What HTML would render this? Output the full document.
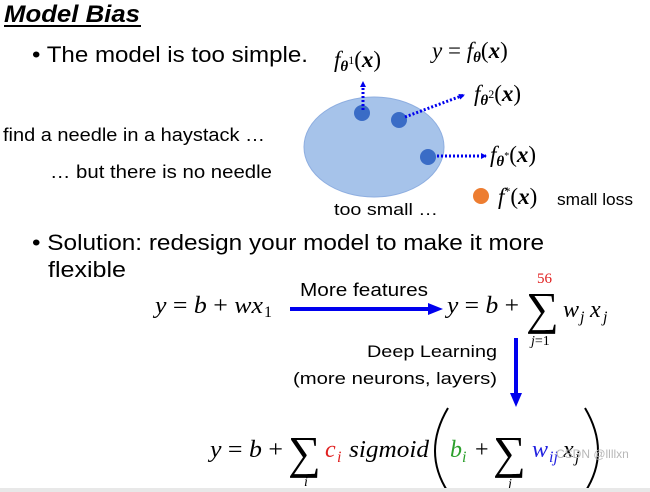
<!DOCTYPE html>
<html><head><style>
html,body{margin:0;padding:0;background:#fff;}
svg{display:block;}
.s{font-family:"Liberation Sans",sans-serif;fill:#000;}
.m{font-family:"Liberation Serif",serif;font-style:italic;fill:#000;}
.r{font-family:"Liberation Serif",serif;fill:#000;}
</style></head><body>
<svg width="650" height="492" viewBox="0 0 650 492" xmlns="http://www.w3.org/2000/svg">
<defs>
<marker id="ab" markerWidth="6" markerHeight="6" refX="5" refY="3" orient="auto" markerUnits="userSpaceOnUse"><path d="M0,0 L6,3 L0,6 z" fill="#0000ee"/></marker>
</defs>
<text x="4" y="22" class="s" font-size="24" font-weight="bold" font-style="italic" textLength="136" lengthAdjust="spacingAndGlyphs">Model Bias</text>
<line x1="4" y1="26" x2="141" y2="26" stroke="#000" stroke-width="2"/>
<text x="32" y="62" class="s" font-size="22" textLength="276" lengthAdjust="spacingAndGlyphs">• The model is too simple.</text>
<text x="3" y="141" class="s" font-size="18" textLength="262" lengthAdjust="spacingAndGlyphs">find a needle in a haystack …</text>
<text x="50" y="178" class="s" font-size="18" textLength="222" lengthAdjust="spacingAndGlyphs">… but there is no needle</text>

<ellipse cx="374" cy="147" rx="70" ry="50" fill="#a6c3ea" stroke="#8eaee0"/>
<circle cx="362" cy="113" r="8" fill="#3a6cc6"/>
<circle cx="399" cy="120" r="8" fill="#3a6cc6"/>
<circle cx="428" cy="157" r="8" fill="#3a6cc6"/>
<g stroke="#0000ee" stroke-width="3" stroke-dasharray="2,2" fill="none">
<line x1="363" y1="110" x2="363" y2="82" marker-end="url(#ab)"/>
<line x1="405" y1="117" x2="464" y2="95" marker-end="url(#ab)"/>
<line x1="437" y1="156" x2="486" y2="156" marker-end="url(#ab)"/>
</g>
<text x="334" y="67" class="m" font-size="23">f<tspan font-size="15" dy="4" font-weight="bold">θ</tspan><tspan font-size="12" dy="-7" font-style="normal">1</tspan><tspan dy="3" font-style="normal">(</tspan><tspan font-weight="bold">x</tspan><tspan font-style="normal">)</tspan></text>
<text x="432" y="58" class="m" font-size="23">y <tspan font-style="normal">=</tspan> f<tspan font-size="15" dy="4" font-weight="bold">θ</tspan><tspan dy="-4" font-style="normal">(</tspan><tspan font-weight="bold">x</tspan><tspan font-style="normal">)</tspan></text>
<text x="474" y="101" class="m" font-size="23">f<tspan font-size="15" dy="4" font-weight="bold">θ</tspan><tspan font-size="12" dy="-7" font-style="normal">2</tspan><tspan dy="3" font-style="normal">(</tspan><tspan font-weight="bold">x</tspan><tspan font-style="normal">)</tspan></text>
<text x="490" y="162" class="m" font-size="23">f<tspan font-size="15" dy="4" font-weight="bold">θ</tspan><tspan font-size="10" dy="-7" font-style="normal">*</tspan><tspan dy="3" font-style="normal">(</tspan><tspan font-weight="bold">x</tspan><tspan font-style="normal">)</tspan></text>
<circle cx="481" cy="196" r="8" fill="#ed7d31"/>
<text x="498" y="204" class="m" font-size="23">f<tspan font-size="12" dy="-9" font-style="normal">*</tspan><tspan dy="9" font-style="normal">(</tspan><tspan font-weight="bold">x</tspan><tspan font-style="normal">)</tspan></text>
<text x="557" y="205" class="s" font-size="17" textLength="76" lengthAdjust="spacingAndGlyphs">small loss</text>
<text x="334" y="215" class="s" font-size="17" textLength="104" lengthAdjust="spacingAndGlyphs">too small …</text>

<text x="32" y="250" class="s" font-size="22" textLength="512" lengthAdjust="spacingAndGlyphs">• Solution: redesign your model to make it more</text>
<text x="48" y="277" class="s" font-size="22" textLength="78" lengthAdjust="spacingAndGlyphs">flexible</text>

<text x="155" y="313" class="m" font-size="24" textLength="108" lengthAdjust="spacingAndGlyphs">y <tspan font-style="normal">=</tspan> b <tspan font-style="normal">+</tspan> wx</text>
<text x="264" y="317" class="r" font-size="16">1</text>
<text x="300" y="296" class="s" font-size="18" textLength="128" lengthAdjust="spacingAndGlyphs">More features</text>
<line x1="290" y1="309" x2="430" y2="309" stroke="#0000ee" stroke-width="4"/>
<path d="M428,303 L443,309 L428,315 z" fill="#0000ee"/>
<text x="447" y="313" class="m" font-size="24" textLength="72" lengthAdjust="spacingAndGlyphs">y <tspan font-style="normal">=</tspan> b <tspan font-style="normal">+</tspan></text>
<text x="526" y="324" class="r" font-size="46">∑</text>
<text x="537" y="283" class="r" font-size="15" style="fill:#e02020">56</text>
<text x="531" y="345" class="m" font-size="14">j<tspan font-style="normal">=1</tspan></text>
<text x="563" y="317" class="m" font-size="24">w</text>
<text x="580" y="322" class="m" font-size="16">j</text>
<text x="590" y="317" class="m" font-size="24">x</text>
<text x="603" y="322" class="m" font-size="16">j</text>

<text x="497" y="357" class="s" font-size="17" text-anchor="end" textLength="130" lengthAdjust="spacingAndGlyphs">Deep Learning</text>
<text x="497" y="384" class="s" font-size="17" text-anchor="end" textLength="204" lengthAdjust="spacingAndGlyphs">(more neurons, layers)</text>
<line x1="516" y1="338" x2="516" y2="395" stroke="#0000ee" stroke-width="4"/>
<path d="M510,393 L516,407 L522,393 z" fill="#0000ee"/>

<text x="210" y="457" class="m" font-size="24" textLength="73" lengthAdjust="spacingAndGlyphs">y <tspan font-style="normal">=</tspan> b <tspan font-style="normal">+</tspan></text>
<text x="288" y="468" class="r" font-size="46">∑</text>
<text x="304" y="486" class="m" font-size="14">i</text>
<text x="325" y="457" class="m" font-size="24" style="fill:#e02020">c</text>
<text x="337" y="462" class="m" font-size="16" style="fill:#e02020">i</text>
<text x="349" y="457" class="m" font-size="24" textLength="80" lengthAdjust="spacingAndGlyphs">sigmoid</text>
<path d="M448,408 Q422,452 448,492" stroke="#000" stroke-width="2" fill="none"/>
<text x="450" y="457" class="m" font-size="24" style="fill:#2ca02c">b</text>
<text x="462" y="462" class="m" font-size="16" style="fill:#2ca02c">i</text>
<text x="475" y="457" class="r" font-size="24">+</text>
<text x="493" y="468" class="r" font-size="46">∑</text>
<text x="508" y="488" class="m" font-size="14">j</text>
<text x="532" y="457" class="m" font-size="24" style="fill:#2020e0">w</text>
<text x="549" y="462" class="m" font-size="16" style="fill:#2020e0">ij</text>
<text x="563" y="457" class="m" font-size="24">x</text>
<text x="575" y="462" class="m" font-size="16">j</text>
<path d="M585,408 Q611,452 585,492" stroke="#000" stroke-width="2" fill="none"/>
<text x="556" y="458" class="s" font-size="12" style="fill:#b8b8b8">CSDN @llllxn</text>
<rect x="0" y="488" width="650" height="4" fill="#e8e8e8"/>
</svg>
</body></html>
